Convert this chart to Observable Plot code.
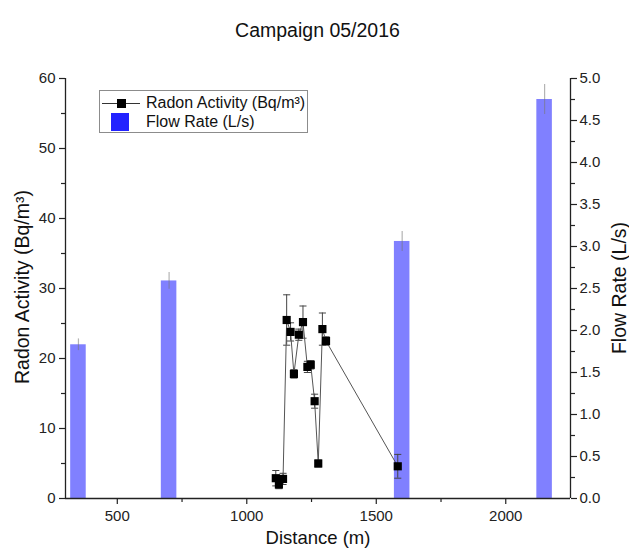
<!DOCTYPE html>
<html>
<head>
<meta charset="utf-8">
<script src="https://cdn.jsdelivr.net/npm/d3@7"></script>
<script src="https://cdn.jsdelivr.net/npm/@observablehq/plot@0.6"></script>
<style>
  body { margin: 0; background: #fff; font-family: "Liberation Sans", Arial, sans-serif; }
  #wrap { position: relative; width: 629px; height: 556px; overflow: hidden; }
  #title { position: absolute; left: 3px; top: 0; width: 629px; height: 60px; line-height: 60px; text-align: center; font-size: 19.5px; color: #111; }
  #chart { position: absolute; left: 0; top: 60px; }
  #legend { position: absolute; left: 99px; top: 90px; width: 207px; height: 41px; border: 1px solid #8c8c8c; background: #fff; }
  #legend .t { position: absolute; left: 46px; font-size: 16px; line-height: 20px; color: #111; white-space: nowrap; }
  .ytitle { position: absolute; font-size: 19.5px; line-height: 22px; color: #111; white-space: nowrap; transform: translate(-50%, -50%) rotate(-90deg); }
</style>
</head>
<body>
<div id="wrap">
  <div id="title">Campaign 05/2016</div>
  <div id="chart"></div>
  <div class="ytitle" style="left:22px;top:287px">Radon Activity (Bq/m³)</div>
  <div class="ytitle" style="left:619px;top:288px">Flow Rate (L/s)</div>
  <div id="legend">
    <div style="position:absolute;left:2px;top:12px;width:38px;height:1px;background:#333"></div>
    <div style="position:absolute;left:17px;top:8px;width:9px;height:9px;background:#000"></div>
    <div class="t" style="top:2px">Radon Activity (Bq/m³)</div>
    <div style="position:absolute;left:11px;top:22px;width:18px;height:18px;background:#2222ff"></div>
    <div class="t" style="top:21px">Flow Rate (L/s)</div>
  </div>
</div>
<script>
// Radon activity (left axis)
const radonDistance = [1112, 1124, 1140, 1154, 1169, 1182, 1201, 1217, 1234, 1247, 1262, 1276, 1292, 1306, 1583];
const radonValue    = [2.9, 2.0, 2.8, 25.5, 23.8, 17.8, 23.4, 25.2, 18.8, 19.1, 13.9, 5.0, 24.2, 22.5, 4.6];
const radonError    = [1.1, 0.6, 0.8, 3.6, 1.3, 0.6, 0.8, 2.3, 0.8, 0.6, 1.0, 0.5, 2.3, 0.6, 1.7];

// Flow rate (right axis)
const flowDistance = [350, 700, 1600, 2150];
const flowValue    = [1.83, 2.59, 3.06, 4.75];
const flowError    = [0.07, 0.10, 0.12, 0.18];

// Axis ticks
const xTicks = [500, 1000, 1500, 2000];
const xMinorTicks = [750, 1250, 1750];
const radonTicks = [0, 10, 20, 30, 40, 50, 60];
const radonMinorTicks = [5, 15, 25, 35, 45, 55];
const flowTicks = [0, 0.5, 1.0, 1.5, 2.0, 2.5, 3.0, 3.5, 4.0, 4.5, 5.0];
const flowMinorTicks = [0.25, 0.75, 1.25, 1.75, 2.25, 2.75, 3.25, 3.75, 4.25, 4.75];

const xDomain = [300, 2250];
const radonDomain = [0, 60];
const flowDomain = [0, 5];
const k = radonDomain[1] / flowDomain[1]; // flow -> left-axis units

const radon = radonDistance.map((d, i) => ({dist: d, v: radonValue[i], e: radonError[i]}));
const flow = flowDistance.map((d, i) => ({dist: d, v: flowValue[i], e: flowError[i]}));

const barHalf = 30;
const cap = { draw(ctx, size) { const w = Math.sqrt(size) / 2; ctx.moveTo(-w, 0); ctx.lineTo(w, 0); } };

const plot = Plot.plot({
  width: 629,
  height: 496,
  marginLeft: 65,
  marginRight: 59,
  marginTop: 18,
  marginBottom: 58,
  style: { fontFamily: "Liberation Sans, Arial, sans-serif", color: "#222", overflow: "visible", background: "transparent" },
  x: { domain: xDomain, axis: null },
  y: { domain: radonDomain, axis: null },
  marks: [
    Plot.rectY(flow, { x1: d => d.dist - barHalf, x2: d => d.dist + barHalf, y1: 0, y2: d => d.v * k, fill: "#8080ff" }),
    Plot.ruleX(flow, { x: "dist", y1: d => (d.v - d.e) * k, y2: d => (d.v + d.e) * k, stroke: "#777", strokeOpacity: 0.55, strokeWidth: 1.2 }),
    Plot.ruleX(radon, { x: "dist", y1: d => d.v - d.e, y2: d => d.v + d.e, stroke: "#444", strokeWidth: 1 }),
    Plot.dot(radon, { x: "dist", y: d => d.v + d.e, symbol: cap, r: 4, stroke: "#444", strokeWidth: 1 }),
    Plot.dot(radon, { x: "dist", y: d => d.v - d.e, symbol: cap, r: 4, stroke: "#444", strokeWidth: 1 }),
    Plot.line(radon, { x: "dist", y: "v", stroke: "#555", strokeWidth: 1 }),
    Plot.dot(radon, { x: "dist", y: "v", symbol: "square", r: 4.6, fill: "#000", stroke: "none" }),
    // axis lines
    Plot.ruleX([xDomain[0]], { y1: radonDomain[0], y2: radonDomain[1], stroke: "#222", strokeWidth: 1.3 }),
    Plot.ruleX([xDomain[1]], { y1: radonDomain[0], y2: radonDomain[1], stroke: "#222", strokeWidth: 1.3 }),
    Plot.ruleY([radonDomain[0]], { x1: xDomain[0], x2: xDomain[1], stroke: "#222", strokeWidth: 1.3 }),
    // axes
    Plot.axisX({ ticks: xTicks, tickSize: 6, tickPadding: 6, fontSize: 15, tickFormat: d => String(d), label: null, strokeWidth: 1.2 }),
    Plot.axisX({ ticks: xMinorTicks, tickSize: 4, tickFormat: () => "", label: null, strokeWidth: 1.2 }),
    Plot.axisY({ ticks: radonTicks, tickSize: 6, tickPadding: 4, fontSize: 15, tickFormat: d => String(d), label: null, strokeWidth: 1.2 }),
    Plot.axisY({ ticks: radonMinorTicks, tickSize: 4, tickFormat: () => "", label: null, strokeWidth: 1.2 }),
    Plot.axisY({ anchor: "right", ticks: flowTicks.map(t => t * k), tickFormat: t => (t / k).toFixed(1), tickSize: 6, tickPadding: 3, fontSize: 15, label: null, strokeWidth: 1.2 }),
    Plot.axisY({ anchor: "right", ticks: flowMinorTicks.map(t => t * k), tickFormat: () => "", tickSize: 4, label: null, strokeWidth: 1.2 }),
    // x axis title
    Plot.text(["Distance (m)"], { frameAnchor: "bottom", dy: 45, fontSize: 18.5, fill: "#111" })
  ]
});
document.getElementById("chart").appendChild(plot);
</script>
</body>
</html>
